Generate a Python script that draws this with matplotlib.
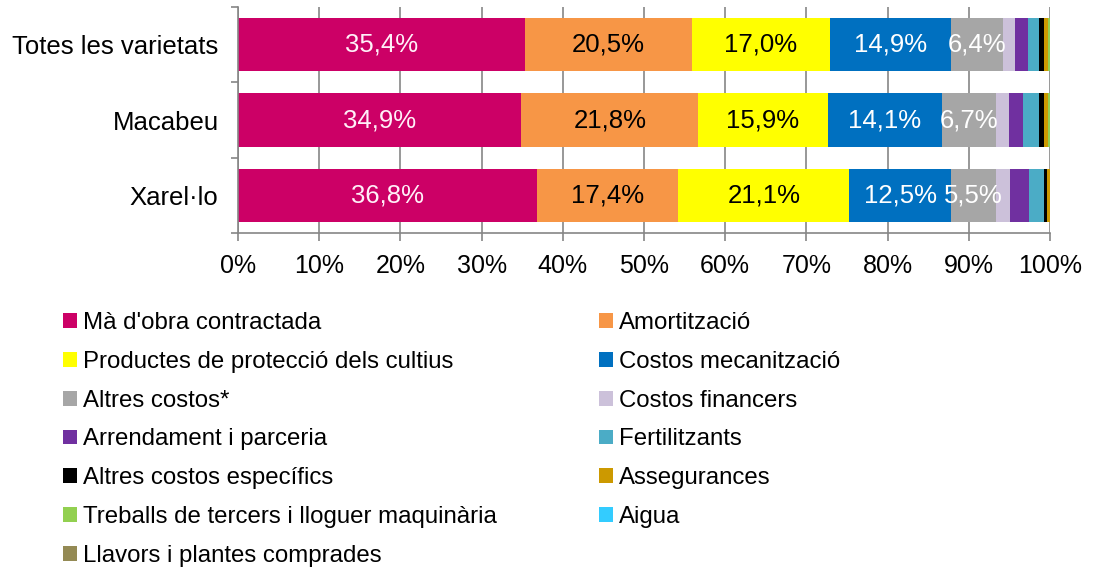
import numpy as np
import matplotlib.pyplot as plt
from matplotlib.patches import Patch

plt.rcParams['font.family'] = ['Liberation Sans', 'DejaVu Sans']

# --------- Data ---------
varietats = ['Totes les varietats', 'Macabeu', 'Xarel·lo']

conceptes = [
    "Mà d'obra contractada", 'Amortització',
    'Productes de protecció dels cultius', 'Costos mecanització',
    'Altres costos*', 'Costos financers',
    'Arrendament i parceria', 'Fertilitzants',
    'Altres costos específics', 'Assegurances',
    'Treballs de tercers i lloguer maquinària', 'Aigua',
    'Llavors i plantes comprades',
]

ma_obra      = [35.4, 34.9, 36.8]
amortitzacio = [20.5, 21.8, 17.4]
productes    = [17.0, 15.9, 21.1]
mecanitzacio = [14.9, 14.1, 12.5]
altres       = [6.4, 6.7, 5.5]
financers    = [1.5, 1.6, 1.8]
arrendament  = [1.6, 1.7, 2.3]
fertilitz    = [1.4, 1.9, 1.8]
especifics   = [0.5, 0.7, 0.4]
assegurances = [0.6, 0.4, 0.4]
treballs     = [0.2, 0.4, 0.1]
aigua        = [0.0, 0.0, 0.0]
llavors      = [0.0, 0.0, 0.0]

series = [ma_obra, amortitzacio, productes, mecanitzacio, altres, financers,
          arrendament, fertilitz, especifics, assegurances, treballs, aigua, llavors]

colors = ['#CC0066', '#F79646', '#FFFF00', '#0070C0', '#A6A6A6', '#CCC1DA',
          '#7030A0', '#4BACC6', '#000000', '#CC9900', '#92D050', '#33CCFF', '#948A54']
label_colors = ['#FFF0F8', 'black', 'black', 'white', 'white']

# --------- Figure ---------
fig = plt.figure(figsize=(10.93, 5.70), dpi=100)
ax = fig.add_axes([238/1093, 1-233/570, (1050-238)/1093, 226/570])

y = np.arange(len(varietats))
left = np.zeros(len(varietats))
for i, (vals, col) in enumerate(zip(series, colors)):
    vals = np.array(vals)
    ax.barh(y, vals, left=left, height=0.71, color=col, zorder=2)
    if i < len(label_colors):
        for yy, l, v in zip(y, left, vals):
            ax.text(l + v/2, yy, f"{v:.1f}%".replace('.', ','), ha='center', va='center',
                    fontsize=18.5, color=label_colors[i], zorder=3)
    left += vals

ax.set_xlim(0, 100)
ax.set_ylim(2.5, -0.5)
ax.set_xticks(np.arange(0, 101, 10))
ax.set_xticklabels([f"{v}%" for v in range(0, 101, 10)], fontsize=18)
ax.set_yticks(y)
ax.set_yticklabels(varietats, fontsize=18.5)
ax.set_yticks([-0.5, 0.5, 1.5, 2.5], minor=True)
ax.tick_params(axis='y', which='major', length=0, pad=14)
ax.tick_params(axis='y', which='minor', length=5, color='#868686', width=1.2)
ax.tick_params(axis='x', length=6, color='#868686', width=1.2, pad=9)
ax.grid(axis='x', color='#868686', linewidth=1.2, zorder=0)
ax.set_axisbelow(True)
for s in ['top', 'right']:
    ax.spines[s].set_visible(False)
for s in ['left', 'bottom']:
    ax.spines[s].set_color('#868686')
    ax.spines[s].set_linewidth(1.2)

handles = [Patch(facecolor=c, label=n) for c, n in zip(colors, conceptes)]
common = dict(frameon=False, fontsize=17.3, handlelength=0.58, handleheight=0.58,
              handletextpad=0.25, labelspacing=0.70, borderpad=0, borderaxespad=0,
              loc='upper left')
fig.legend(handles=handles[0::2], bbox_to_anchor=(63/1093, 1-312/570), **common)
fig.legend(handles=handles[1::2], bbox_to_anchor=(599/1093, 1-312/570), **common)

fig.savefig('out.png', dpi=100)
